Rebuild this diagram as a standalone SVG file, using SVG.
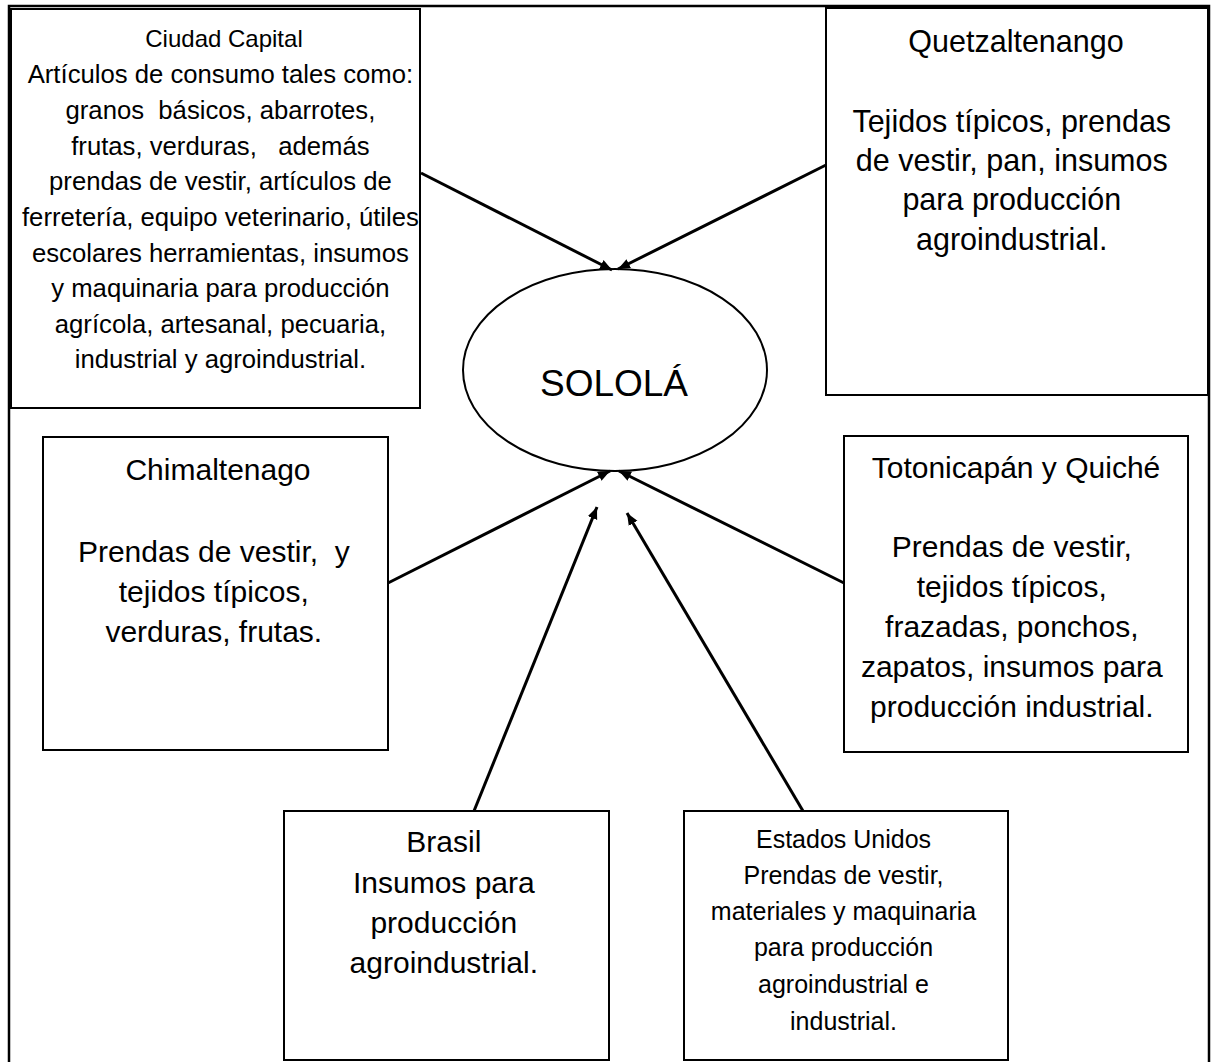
<svg xmlns="http://www.w3.org/2000/svg" width="1212" height="1062" viewBox="0 0 1212 1062">
<defs>
<style>
.box{fill:#fff;stroke:#000;stroke-width:2}
.t{font-family:"Liberation Sans",Arial,sans-serif;fill:#000;text-anchor:middle;white-space:pre}
.conn{stroke:#000;stroke-width:3;fill:none;marker-end:url(#ah)}
</style>
<marker id="ah" markerUnits="userSpaceOnUse" markerWidth="14" markerHeight="12" refX="12" refY="5.5" orient="auto">
<path d="M0,0.5 L12,5.5 L0,10.5 z" fill="#000"/>
</marker>
</defs>
<rect x="0" y="0" width="1212" height="1062" fill="#fff"/>
<rect x="9" y="6" width="1200" height="1060" fill="none" stroke="#000" stroke-width="2.5"/>

<g id="ciudad-capital">
<rect class="box" x="11" y="9" width="409" height="399" stroke-width="2.5"/>
<text class="t" font-size="24" x="224" y="47">Ciudad Capital</text>
<text class="t" font-size="25.7" x="224">
<tspan x="224" y="83">Artículos de consumo tales como:</tspan>
<tspan x="224" y="119">granos  básicos, abarrotes,</tspan>
<tspan x="224" y="155">frutas, verduras,   además</tspan>
<tspan x="224" y="190">prendas de vestir, artículos de</tspan>
<tspan x="224" y="226">ferretería, equipo veterinario, útiles</tspan>
<tspan x="224" y="262">escolares herramientas, insumos</tspan>
<tspan x="224" y="297">y maquinaria para producción</tspan>
<tspan x="224" y="333">agrícola, artesanal, pecuaria,</tspan>
<tspan x="224" y="368">industrial y agroindustrial.</tspan>
</text>
</g>

<g id="quetzaltenango">
<rect class="box" x="826" y="8" width="382" height="387"/>
<text class="t" font-size="30.5" x="1016" y="52">Quetzaltenango</text>
<text class="t" font-size="30.5">
<tspan x="1016" y="132">Tejidos típicos, prendas</tspan>
<tspan x="1016" y="171">de vestir, pan, insumos</tspan>
<tspan x="1016" y="210">para producción</tspan>
<tspan x="1016" y="250">agroindustrial.</tspan>
</text>
</g>

<g id="sotola">
<ellipse cx="615" cy="370" rx="152" ry="101" fill="#fff" stroke="#000" stroke-width="2"/>
<text class="t" font-size="37" x="614" y="396">SOLOLÁ</text>
</g>

<g id="chimaltenago">
<rect class="box" x="43" y="437" width="345" height="313"/>
<text class="t" font-size="30" x="218" y="480">Chimaltenago</text>
<text class="t" font-size="30">
<tspan x="218" y="562">Prendas de vestir,  y</tspan>
<tspan x="218" y="602">tejidos típicos,</tspan>
<tspan x="218" y="642">verduras, frutas.</tspan>
</text>
</g>

<g id="totonicapan-quiche">
<rect class="box" x="844" y="436" width="344" height="316"/>
<text class="t" font-size="30" x="1016" y="478">Totonicapán y Quiché</text>
<text class="t" font-size="30">
<tspan x="1016" y="557">Prendas de vestir,</tspan>
<tspan x="1016" y="597">tejidos típicos,</tspan>
<tspan x="1016" y="637">frazadas, ponchos,</tspan>
<tspan x="1016" y="677">zapatos, insumos para</tspan>
<tspan x="1016" y="717">producción industrial.</tspan>
</text>
</g>

<g id="brasil">
<rect class="box" x="284" y="811" width="325" height="249"/>
<text class="t" font-size="30">
<tspan x="448" y="852">Brasil</tspan>
<tspan x="448" y="893">Insumos para</tspan>
<tspan x="448" y="933">producción</tspan>
<tspan x="448" y="973">agroindustrial.</tspan>
</text>
</g>

<g id="estados-unidos">
<rect class="box" x="684" y="811" width="324" height="249"/>
<text class="t" font-size="25">
<tspan x="847" y="848">Estados Unidos</tspan>
<tspan x="847" y="884">Prendas de vestir,</tspan>
<tspan x="847" y="920">materiales y maquinaria</tspan>
<tspan x="847" y="956">para producción</tspan>
<tspan x="847" y="993">agroindustrial e</tspan>
<tspan x="847" y="1030">industrial.</tspan>
</text>
</g>

<g id="connectors">
<line class="conn" x1="421" y1="173" x2="612" y2="270"/>
<line class="conn" x1="826" y1="165" x2="618" y2="269"/>
<line class="conn" x1="388" y1="583" x2="610" y2="471"/>
<line class="conn" x1="844" y1="583" x2="619" y2="471"/>
<line class="conn" x1="474" y1="811" x2="597" y2="507"/>
<line class="conn" x1="803" y1="811" x2="627" y2="513"/>
</g>
</svg>
